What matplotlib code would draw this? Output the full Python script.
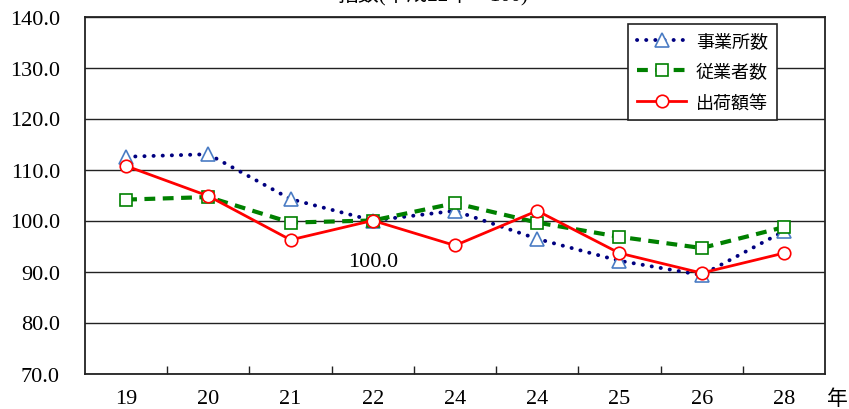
import matplotlib
matplotlib.use("Agg")
import matplotlib.pyplot as plt
import numpy as np

# x categories (年)
years = ["19", "20", "21", "22", "24", "24", "25", "26", "28"]

# 指数 (平成22年 = 100)
establishments = [112.5, 113.0, 104.2, 100.0, 101.9, 96.4, 92.1, 89.3, 97.9]   # 事業所数
employees      = [104.1, 104.6, 99.6, 100.0, 103.4, 99.6, 96.8, 94.6, 98.7]    # 従業者数
shipments      = [110.7, 104.8, 96.2, 100.0, 95.1, 101.9, 93.6, 89.7, 93.6]    # 出荷額等

yticks = np.arange(70, 141, 10)

FONT = ["Liberation Serif", "Noto Sans CJK JP", "DejaVu Sans"]
plt.rcParams["font.family"] = FONT

fig = plt.figure(figsize=(8.49, 4.10), dpi=100)
# axes box: x 85..825 px, y 17.5..374.5 px
ax = fig.add_axes([85 / 849, (410 - 374.5) / 410, 740 / 849, 357 / 410])

x = np.arange(len(years))

ax.plot(x, establishments, color="#000080", lw=2.8, linestyle=(0, (0.05, 2.3)),
        dash_capstyle="round", marker="^", markersize=10, markerfacecolor="white",
        markeredgecolor="#4A7CC4", markeredgewidth=1.2, label="事業所数", zorder=3)
ax.plot(x, employees, color="#008000", lw=3.0, linestyle=(0, (2.6, 1.8)),
        marker="s", markersize=9, markerfacecolor="white",
        markeredgecolor="#008000", markeredgewidth=1.2, label="従業者数", zorder=3)
ax.plot(x, shipments, color="#FF0000", lw=2.0, linestyle="-",
        marker="o", markersize=9, markerfacecolor="white",
        markeredgecolor="#FF0000", markeredgewidth=1.2, label="出荷額等", zorder=4)

# data label under 平成22年
ax.annotate("100.0", xy=(3, shipments[3]), xytext=(0, -29.5), textcoords="offset points",
            ha="center", va="center", fontsize=16)

ax.set_xlim(-0.5, len(years) - 0.5)
ax.set_ylim(70, 140)
ax.set_yticks(yticks)
ax.set_yticklabels([f"{v:.1f}" for v in yticks], fontsize=16)
ax.yaxis.grid(True, color="#222222", lw=1.0)
ax.set_axisbelow(True)
ax.tick_params(axis="y", length=0, pad=18)

ax.set_xticks(x)
ax.set_xticklabels(years, fontsize=16)
ax.set_xticks(x[:-1] + 0.5, minor=True)
ax.tick_params(axis="x", which="major", length=0, pad=11)
ax.tick_params(axis="x", which="minor", direction="in", length=6, width=1.0, color="#222222")

for s in ax.spines.values():
    s.set_color("#222222")
    s.set_linewidth(1.3)

fig.text(837 / 849, 10 / 410, "年", fontsize=15, ha="center", va="center")

fig.text(433 / 849, 1 - 6 / 410, "指数(平成22年＝100)", fontsize=15,
         ha="center", va="bottom")

leg = ax.legend(loc="upper left", bbox_to_anchor=(0.734, 0.979), fontsize=13,
                frameon=True, fancybox=False, edgecolor="#222222", framealpha=1,
                handlelength=2.7, handletextpad=0.55, labelspacing=0.75,
                borderpad=0.5, borderaxespad=0)
leg.get_frame().set_linewidth(1.2)

fig.savefig("out.png", dpi=100)
